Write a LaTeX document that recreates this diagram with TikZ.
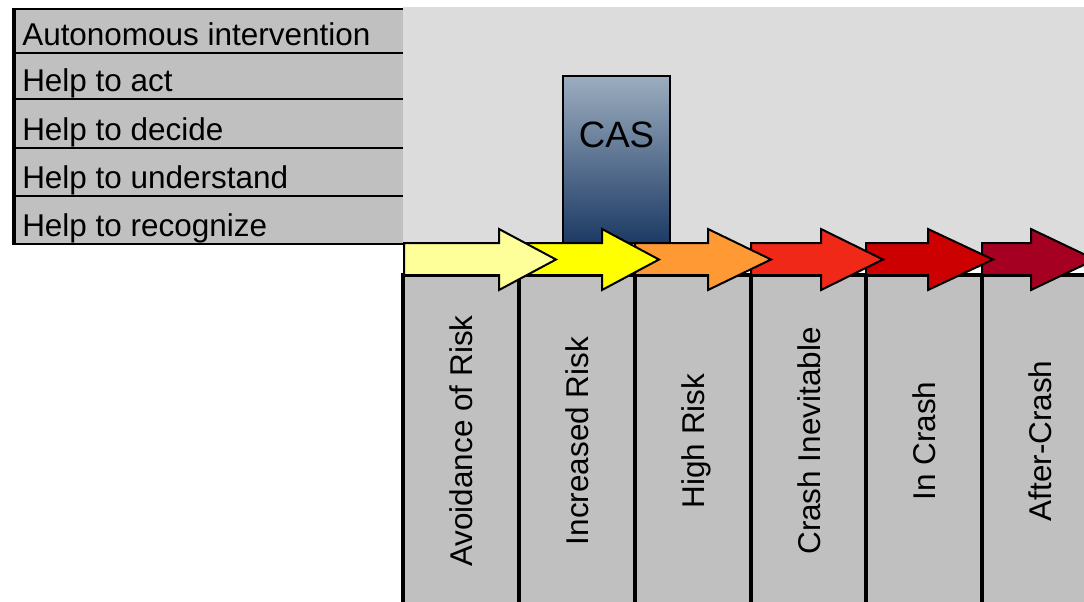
\documentclass[tikz,border=0pt]{standalone}
\usepackage{fontspec}
\setmainfont{Liberation Sans}
\definecolor{bgray}{HTML}{DCDCDC}
\definecolor{boxgray}{HTML}{C0C0C0}
\definecolor{arrA}{HTML}{FFFF99}
\definecolor{arrB}{HTML}{FFFF00}
\definecolor{arrC}{HTML}{FF9933}
\definecolor{arrD}{HTML}{EF2818}
\definecolor{arrE}{HTML}{CC0000}
\definecolor{arrF}{HTML}{A50021}
\definecolor{castop}{HTML}{9CADBF}
\definecolor{casbot}{HTML}{1C3A64}
\begin{document}
\begin{tikzpicture}[x=0.75pt,y=-0.75pt,
  rowtext/.style={font=\fontsize{23.6}{28}\selectfont, inner sep=0pt, anchor=base west},
  coltext/.style={font=\fontsize{23.6}{28}\selectfont, inner sep=0pt, rotate=90, anchor=base},
  colbox/.style={fill=boxgray, draw=black, line width=2.4pt},
  arrowline/.style={draw=black, line width=1.5pt, line join=miter},
  casbox/.style={draw=black, line width=1.5pt, top color=castop, bottom color=casbot, minimum width=80.25pt, minimum height=125.25pt, inner sep=0pt},
  castext/.style={font=\fontsize{27.5}{32}\selectfont, inner sep=0pt}]
\useasboundingbox (0,0) rectangle (1084,601);
\clip (0,0) rectangle (1084,601);
% background panel
\fill[bgray] (403,7) rectangle (1084,268);
% left rows
\foreach \a/\b/\t [count=\k] in {9/53/Autonomous intervention, 53/99/Help to act, 99/148/Help to decide, 148/196/Help to understand, 196/244/Help to recognize}{
  \fill[boxgray] (13,\a) rectangle (403,\b);
  \draw[line width=1.8pt] (13,\a) -- (403,\a);
  \draw[line width=1.8pt] (13,\b) -- (403,\b);
  \node[rowtext] (row\k) at (22,{\b-7.5}) {\t};
}
\draw[line width=2.4pt] (14,8) -- (14,245);
% columns
\foreach \x/\t [count=\k] in {403/Avoidance of Risk, 519/Increased Risk, 635/High Risk, 751/Crash Inevitable, 866/In Crash, 982/After-Crash}{
  \draw[colbox] (\x,275) rectangle ++(116,340);
  \node[coltext] (col\k) at ({\x+58+11},441) {\t};
}
% CAS box
\node[casbox] (cas) at (616.5,159.5) {};
\node[castext] (caslabel) at (616.5,135) {CAS};
% arrows (drawn back to front)
\foreach \s/\b/\p/\c [count=\k] in {982/1031/1095/arrF, 866/928/993/arrE, 751/821/883/arrD, 635/708/771/arrC, 519/602/659/arrB, 404/499/556/arrA}{
  \draw[arrowline, fill=\c] (\s,243) -- (\b,243) -- (\b,229) -- (\p,259.5) -- (\b,290) -- (\b,275) -- (\s,275) -- cycle;
}
\end{tikzpicture}
\end{document}
